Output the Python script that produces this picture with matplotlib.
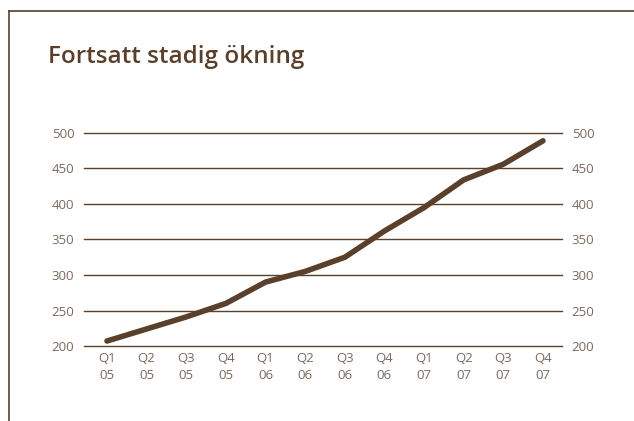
import matplotlib
matplotlib.use("Agg")
import matplotlib.pyplot as plt
from matplotlib.lines import Line2D

quarters = ["Q1\n05", "Q2\n05", "Q3\n05", "Q4\n05", "Q1\n06", "Q2\n06",
            "Q3\n06", "Q4\n06", "Q1\n07", "Q2\n07", "Q3\n07", "Q4\n07"]
values = [207, 224, 241, 260, 290, 305, 325, 362, 395, 434, 456, 489]
yticks = [200, 250, 300, 350, 400, 450, 500]

brown = "#5a3f2b"
text_col = "#7a6a5e"

plt.rcParams['font.family'] = ['Open Sans', 'DejaVu Sans']

fig = plt.figure(figsize=(6.34, 4.21), dpi=100)
ax = fig.add_axes([84 / 634, 75 / 421, 478 / 634, 213 / 421])

x = list(range(len(values)))
for v in yticks:
    ax.axhline(v, color=brown, linewidth=1, zorder=1, clip_on=False)
ax.plot(x, values, color=brown, linewidth=4, solid_capstyle='round', zorder=2)

ax.set_xlim(-0.58, 11.48)
ax.set_ylim(200, 500)
ax.set_xticks(x)
ax.set_xticklabels(quarters, color=text_col, fontsize=9.5, linespacing=1.4)
ax.set_yticks(yticks)
ax.tick_params(axis='both', length=0, colors=text_col)
ax.tick_params(axis='x', pad=4)
ax.tick_params(axis='y', pad=7, labelsize=9.5, labelleft=True, labelright=True)
for s in ax.spines.values():
    s.set_visible(False)

fig.text(48 / 634, 1 - 57 / 421, "Fortsatt stadig ökning", fontsize=17.5,
         fontweight='semibold', color=brown, va='center', ha='left')

# frame around the chart
fig.add_artist(Line2D([8.5 / 634, 8.5 / 634], [0, 1 - 10.5 / 421], color=brown, linewidth=1.2,
                      transform=fig.transFigure))
fig.add_artist(Line2D([8.5 / 634, 1], [1 - 10.5 / 421, 1 - 10.5 / 421], color=brown, linewidth=1.2,
                      transform=fig.transFigure))

plt.savefig("out.png", dpi=100)
